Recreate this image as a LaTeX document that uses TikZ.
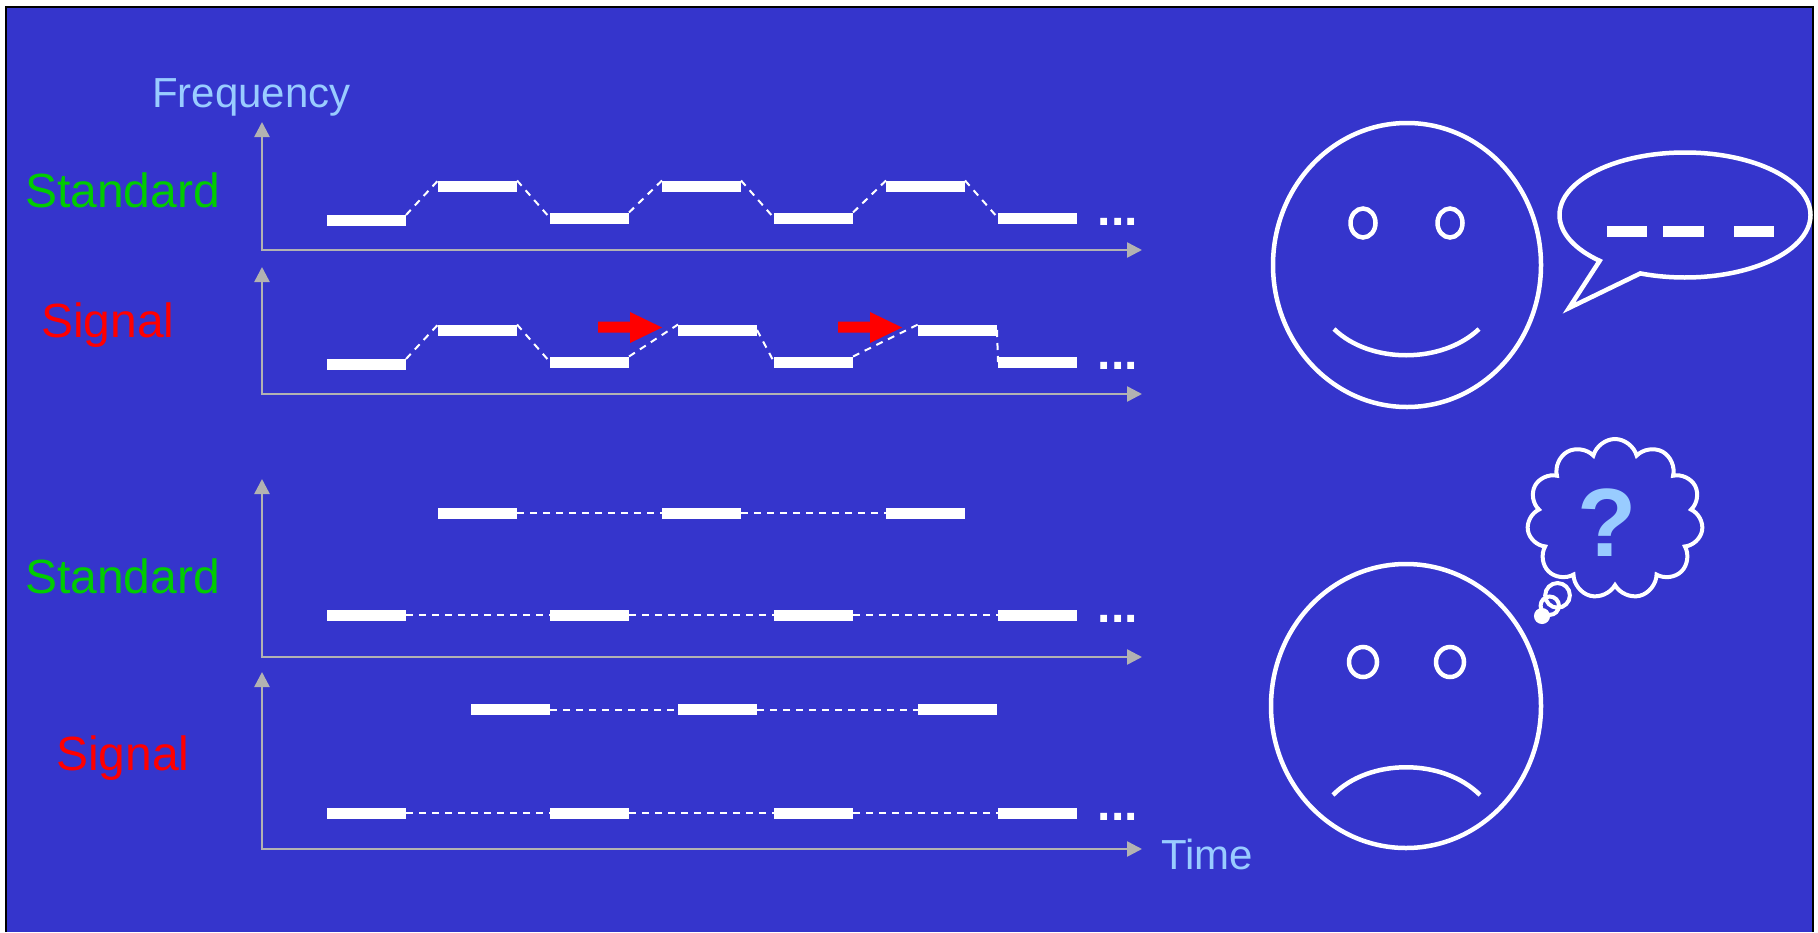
\documentclass[tikz,border=0pt]{standalone}
\usepackage{fontspec}
\setmainfont{Liberation Sans}
\usetikzlibrary{arrows.meta,shapes.callouts,shapes.symbols}

\definecolor{panelblue}{RGB}{53,53,204}
\definecolor{axisgray}{RGB}{178,178,178}
\definecolor{labelgreen}{RGB}{0,204,0}
\definecolor{labelred}{RGB}{255,0,0}
\definecolor{axistext}{RGB}{153,204,255}

\begin{document}
\begin{tikzpicture}[x=1pt,y=-1pt,
  barnode/.style={rectangle, fill=white, minimum width=79pt, minimum height=11pt, inner sep=0pt, outer sep=0pt},
  link/.style={white, line width=2pt, dash pattern=on 7pt off 6pt},
  axisline/.style={axisgray, line width=2.5pt, line join=miter,
    {Triangle[length=15pt,width=15pt]}-{Triangle[length=15pt,width=15pt]}},
  rowlabel/.style={anchor=base west, inner sep=0pt, font=\fontsize{48}{56}\selectfont},
  axislabel/.style={anchor=base west, inner sep=0pt, text=axistext, font=\fontsize{42}{50}\selectfont},
  moredots/.style={anchor=base west, inner sep=0pt, text=white, font=\bfseries\fontsize{48}{56}\selectfont},
  face/.style={white, line width=4.5pt},
  shiftarrow/.style={fill=labelred},
]
\useasboundingbox (0,0) rectangle (1818,932);

% slide background and frame
\fill[white] (0,0) rectangle (1818,932);
\fill[panelblue] (6,7) rectangle (1813,932);
\draw[black, line width=2pt] (6,932) -- (6,7) -- (1813,7) -- (1813,932);

% axis labels
\node[axislabel] (freq) at (152,107) {Frequency};
\node[axislabel] (time) at (1161,869) {Time};

% row labels
\node[rowlabel, text=labelgreen] (std1) at (25,207) {Standard};
\node[rowlabel, text=labelred]   (sig1) at (41,337) {Signal};
\node[rowlabel, text=labelgreen] (std2) at (25,593) {Standard};
\node[rowlabel, text=labelred]   (sig2) at (56,770) {Signal};

% axes
\coordinate (a1top) at (262,122); \coordinate (a1o) at (262,250); \coordinate (a1end) at (1142,250);
\coordinate (a2top) at (262,267); \coordinate (a2o) at (262,394); \coordinate (a2end) at (1142,394);
\coordinate (a3top) at (262,479); \coordinate (a3o) at (262,657); \coordinate (a3end) at (1142,657);
\coordinate (a4top) at (262,672); \coordinate (a4o) at (262,849); \coordinate (a4end) at (1142,849);
\draw[axisline] (a1top) -- (a1o) -- (a1end);
\draw[axisline] (a2top) -- (a2o) -- (a2end);
\draw[axisline] (a3top) -- (a3o) -- (a3end);
\draw[axisline] (a4top) -- (a4o) -- (a4end);

% strip 1: standard hopping pattern
\node[barnode] (s1a) at (366.5,220.5) {};
\node[barnode] (s1b) at (477.5,186) {};
\node[barnode] (s1c) at (589.5,218) {};
\node[barnode] (s1d) at (701.5,186) {};
\node[barnode] (s1e) at (813.5,218) {};
\node[barnode] (s1f) at (925.5,186) {};
\node[barnode] (s1g) at (1037.5,218) {};
\node[moredots] (d1) at (1097.5,225.5) {...};
\draw[link] (s1a.north east) -- (s1b.north west);
\draw[link] (s1b.north east) -- (s1c.west);
\draw[link] (s1c.north east) -- (s1d.north west);
\draw[link] (s1d.north east) -- (s1e.west);
\draw[link] (s1e.north east) -- (s1f.north west);
\draw[link] (s1f.north east) -- (s1g.west);

% strip 2: received signal with delayed hops
\node[barnode] (s2a) at (366.5,364.5) {};
\node[barnode] (s2b) at (477.5,330) {};
\node[barnode] (s2c) at (589.5,362) {};
\node[barnode] (s2d) at (717.5,330) {};
\node[barnode] (s2e) at (813.5,362) {};
\node[barnode] (s2f) at (957.5,330) {};
\node[barnode] (s2g) at (1037.5,362) {};
\node[moredots] (d2) at (1097.5,369.5) {...};
\draw[link] (s2a.north east) -- (s2b.north west);
\draw[link] (s2b.north east) -- (s2c.west);
\draw[link] (s2c.north east) -- (s2d.north west);
\draw[link] (s2d.east) -- (s2e.west);
\draw[link] (s2e.north east) -- (s2f.north west);
\draw[link] (s2f.east) -- (s2g.west);

% red arrows marking the delays
\fill[shiftarrow] (598,321.5) -- (630,321.5) -- (630,312) -- (662,327.5) -- (630,343) -- (630,332.5) -- (598,332.5) -- cycle;
\fill[shiftarrow] (838,321.5) -- (870,321.5) -- (870,312) -- (902,327.5) -- (870,343) -- (870,332.5) -- (838,332.5) -- cycle;

% strip 3: standard split into two channels
\node[barnode] (s3b) at (477.5,513) {};
\node[barnode] (s3d) at (701.5,513) {};
\node[barnode] (s3f) at (925.5,513) {};
\node[barnode] (s3a) at (366.5,615) {};
\node[barnode] (s3c) at (589.5,615) {};
\node[barnode] (s3e) at (813.5,615) {};
\node[barnode] (s3g) at (1037.5,615) {};
\node[moredots] (d3) at (1097.5,622.5) {...};
\draw[link] (s3b.east) -- (s3d.west);
\draw[link] (s3d.east) -- (s3f.west);
\draw[link] (s3a.east) -- (s3c.west);
\draw[link] (s3c.east) -- (s3e.west);
\draw[link] (s3e.east) -- (s3g.west);

% strip 4: signal split into two channels
\node[barnode] (s4b) at (510.5,709.5) {};
\node[barnode] (s4d) at (717.5,709.5) {};
\node[barnode] (s4f) at (957.5,709.5) {};
\node[barnode] (s4a) at (366.5,813) {};
\node[barnode] (s4c) at (589.5,813) {};
\node[barnode] (s4e) at (813.5,813) {};
\node[barnode] (s4g) at (1037.5,813) {};
\node[moredots] (d4) at (1097.5,820.5) {...};
\draw[link] (s4b.east) -- (s4d.west);
\draw[link] (s4d.east) -- (s4f.west);
\draw[link] (s4a.east) -- (s4c.west);
\draw[link] (s4c.east) -- (s4e.west);
\draw[link] (s4e.east) -- (s4g.west);

% happy face
\draw[face] (1407,265) ellipse [x radius=134pt, y radius=142pt];
\draw[face] (1363,223) ellipse [x radius=12.5pt, y radius=14.5pt];
\draw[face] (1450,223) ellipse [x radius=12.5pt, y radius=14.5pt];
\draw[face] (1334,329) .. controls (1370,364) and (1442,364) .. (1479,329);

% speech bubble with the hop pattern
\node[ellipse callout, draw=white, line width=4.5pt, minimum width=251pt, minimum height=125pt,
      inner sep=0pt, callout absolute pointer={(1569,308)}, callout pointer arc=22] (speech) at (1685,215) {};
\fill[white] (1607,226) rectangle (1647,237);
\fill[white] (1663,226) rectangle (1704,237);
\fill[white] (1734,226) rectangle (1774,237);

% sad face
\draw[face] (1406,706) ellipse [x radius=135pt, y radius=142pt];
\draw[face] (1363,662) ellipse [x radius=14pt, y radius=15pt];
\draw[face] (1450,662) ellipse [x radius=14pt, y radius=15pt];
\draw[face] (1333,795) .. controls (1369,758) and (1443,758) .. (1480,795);

% thought cloud with question mark
\node[cloud callout, draw=white, line width=4pt, cloud puffs=11, cloud puff arc=150, aspect=1.1,
      minimum width=176pt, minimum height=160pt, inner sep=0pt,
      callout absolute pointer={(1542,616)},
      callout pointer start size=34pt and 31pt, callout pointer end size=11pt and 12pt,
      callout pointer segments=3] (cloud) at (1615,519) {};
\fill[white] (1542,616) ellipse [x radius=5.5pt, y radius=6pt];
\node[inner sep=0pt, text=axistext, font=\bfseries\fontsize{97}{100}\selectfont] (qmark) at (1607.5,523) {?};

\end{tikzpicture}
\end{document}
